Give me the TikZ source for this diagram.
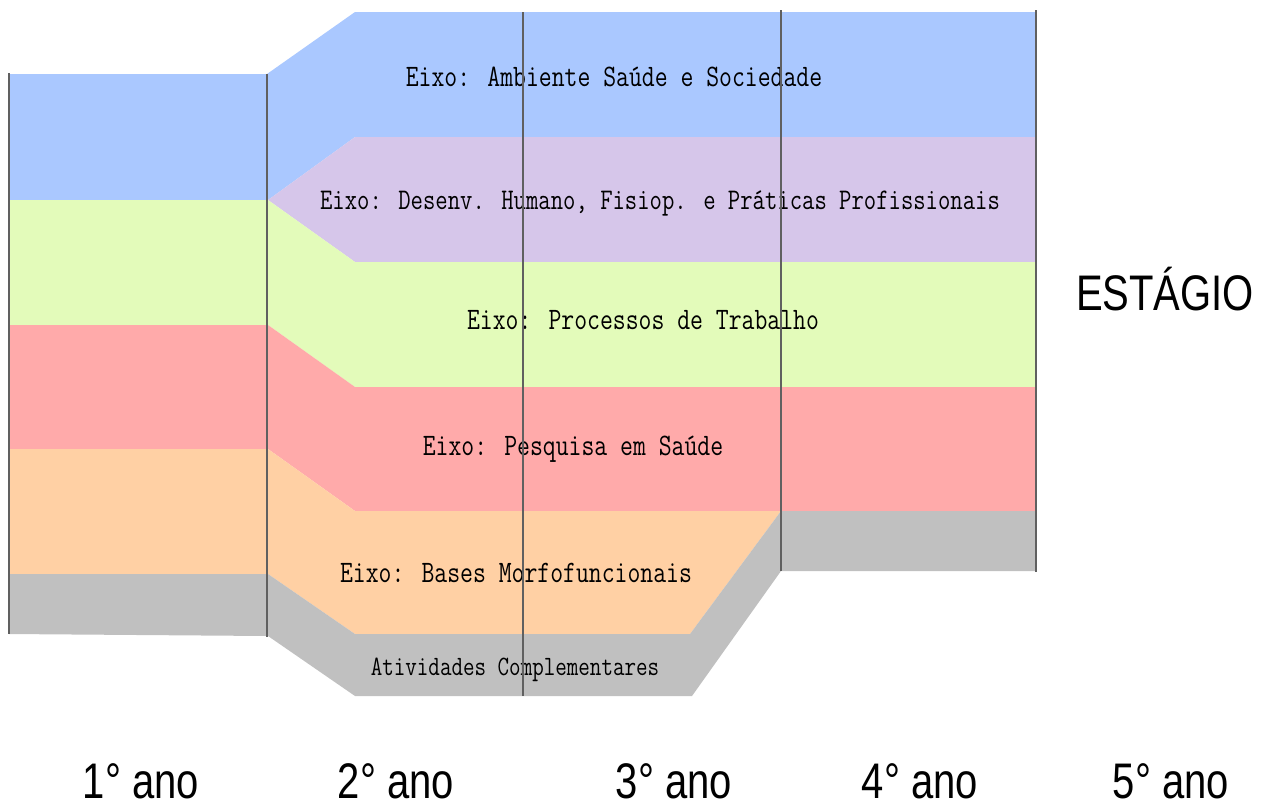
\documentclass[tikz,border=0pt]{standalone}
\usepackage{fontspec}
\usepackage{graphicx}
\newfontfamily\arialfont{Liberation Sans}
\definecolor{azul}{HTML}{AAC8FF}
\definecolor{lilas}{HTML}{D6C6EA}
\definecolor{verde}{HTML}{E3FBBA}
\definecolor{rosa}{HTML}{FFAAAA}
\definecolor{laranja}{HTML}{FFD0A4}
\definecolor{cinza}{HTML}{C0C0C0}
\definecolor{linha}{HTML}{606060}
\newcommand{\esticado}[1]{\scalebox{1}[1.25]{#1}}
\newcommand{\estreito}[1]{\scalebox{0.8}[1]{#1}}
\tikzset{
  eixo/.style={font=\ttfamily\fontsize{12.5}{15}\selectfont,anchor=base,inner sep=0pt},
  ano/.style={font=\arialfont\fontsize{25}{30}\selectfont,anchor=base,inner sep=0pt},
  divisa/.style={draw=linha,line width=1pt}
}

\begin{document}
\begin{tikzpicture}[x=0.5pt,y=-0.5pt]
  \useasboundingbox (0,0) rectangle (1268,810);
  % faixas dos eixos
  \fill[azul] (9,74) -- (267,74) -- (355,12) -- (1036,12) -- (1036,137) -- (355,137) -- (268,200) -- (9,200) -- cycle;
  \fill[lilas] (268,200) -- (355,137) -- (1036,137) -- (1036,262) -- (355,262) -- cycle;
  \fill[verde] (9,200) -- (268,200) -- (355,262) -- (1036,262) -- (1036,387) -- (355,387) -- (268,325) -- (9,325) -- cycle;
  \fill[rosa] (9,325) -- (268,325) -- (355,387) -- (1036,387) -- (1036,511) -- (355,511) -- (268,449) -- (9,449) -- cycle;
  \fill[laranja] (9,449) -- (268,449) -- (355,511) -- (781,511) -- (690,634) -- (355,634) -- (268,574) -- (9,574) -- cycle;
  \fill[cinza] (9,574) -- (268,574) -- (355,634) -- (690,634) -- (781,511) -- (1036,511) -- (1036,571) -- (781,571) -- (692,696) -- (355,696) -- (268,636) -- (9,634) -- cycle;

  \node[eixo] (amb) at (614,86) {\esticado{Eixo: Ambiente Saúde e Sociedade}};
  \node[eixo,font=\ttfamily\fontsize{12}{14}\selectfont] (desenv) at (660,209) {\esticado{Eixo: Desenv. Humano, Fisiop. e Práticas Profissionais}};
  \node[eixo] (proc) at (643,329) {\esticado{Eixo: Processos de Trabalho}};
  \node[eixo] (pesq) at (573,455) {\esticado{Eixo: Pesquisa em Saúde}};
  \node[eixo] (bases) at (516,582) {\esticado{Eixo: Bases Morfofuncionais}};
  \node[eixo,font=\ttfamily\fontsize{11.2}{13}\selectfont] (ativ) at (515,675) {\esticado{Atividades Complementares}};
  \node[ano] (estagio) at (1165,310) {\estreito{ESTÁGIO}};

  % anos
  \foreach \x/\n in {141/1,396/2,674/3,920/4,1171/5}
    \node[ano] (ano\n) at (\x,798) {\estreito{\n° ano}};

  % divisas entre os anos
  \foreach \x/\a/\b in {9/73/634,267/74/637,523/12/696,781/10/571,1036/10/572}
    \draw[divisa] (\x,\a) -- (\x,\b);
\end{tikzpicture}
\end{document}
